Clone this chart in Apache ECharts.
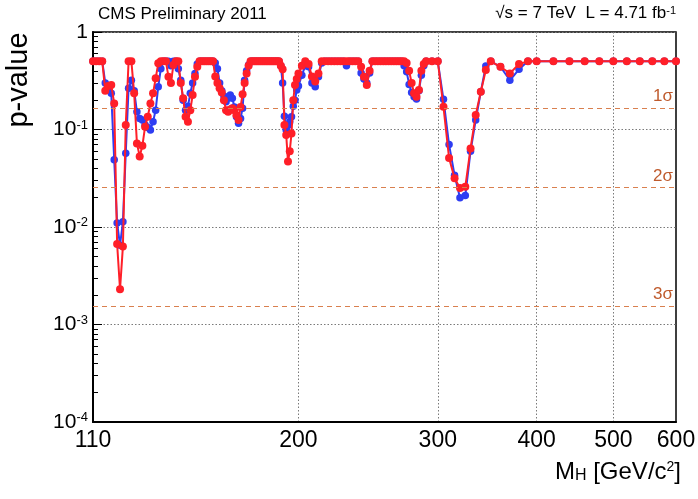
<!DOCTYPE html>
<html><head><meta charset="utf-8">
<script src="https://cdn.jsdelivr.net/npm/echarts@6/dist/echarts.min.js"></script>
<style>html,body{margin:0;padding:0;background:#fff}#c{width:698px;height:499px}</style>
</head><body><div id="c"></div>
<script>
// Higgs mass points (GeV/c^2)
const massGeV = [
 110,111,112,113,114,115,116,117,118,119,120,121,122,123,124,125,126,127,128,129,
 130,131,132,133,134,135,136,137,138,139,140,141,142,143,144,145,146,147,148,149,
 150,151,152,153,154,155,156,157,158,159,160,161,162,163,164,165,166,167,168,169,
 170,171,172,173,174,175,176,177,178,179,180,181,182,183,184,185,186,187,188,189,
 190,191,192,193,194,195,196,197,198,199,200,
 202,204,206,208,210,212,214,216,218,220,222,224,226,228,230,232,234,236,238,240,
 242,244,246,248,250,252,254,256,258,260,262,264,266,268,270,272,274,276,278,280,
 282,284,286,288,290,
 295,300,305,310,315,320,325,330,335,340,345,350,
 360,370,380,390,400,
 420,440,460,480,500,520,540,560,580,600
];
// blue curve (p-value)
const pBlue = [
 0.5,0.5,0.5,0.5,0.30,0.27,0.235,0.049,0.011,0.0065,0.0113,0.057,0.265,0.32,0.25,0.152,0.13,0.125,0.111,0.105,
 0.099,0.12,0.158,0.275,0.42,0.5,0.5,0.5,0.45,0.5,0.5,0.42,0.32,0.2,0.158,0.173,0.235,0.30,0.376,0.47,
 0.5,0.5,0.5,0.5,0.5,0.5,0.5,0.48,0.42,0.30,0.25,0.22,0.193,0.21,0.226,0.209,0.17,0.135,0.116,0.13,
 0.165,0.32,0.40,0.46,0.5,0.5,0.5,0.5,0.5,0.5,0.5,0.5,0.5,0.5,0.5,0.5,0.5,0.5,0.5,0.5,
 0.45,0.30,0.137,0.099,0.11,0.12,0.135,0.173,0.2,0.254,0.28,
 0.36,0.45,0.44,0.30,0.275,0.348,0.48,0.5,0.5,0.5,0.5,0.5,0.5,0.5,0.45,0.5,0.5,0.5,0.5,0.38,
 0.33,0.30,0.38,0.5,0.5,0.5,0.5,0.5,0.5,0.5,0.5,0.5,0.5,0.5,0.5,0.45,0.39,0.29,0.24,0.217,
 0.205,0.25,0.36,0.45,0.5,
 0.5,0.5,0.204,0.07,0.034,0.020,0.021,0.06,0.125,0.244,0.448,0.5,
 0.44,0.32,0.414,0.5,0.5,
 0.5,0.5,0.5,0.5,0.5,0.5,0.5,0.5,0.5,0.5
];
// red curve (p-value)
const pRed = [
 0.5,0.5,0.5,0.5,0.25,0.28,0.286,0.185,0.0067,0.0023,0.0063,0.111,0.5,0.5,0.235,0.072,0.053,0.068,0.107,0.135,
 0.185,0.235,0.335,0.477,0.5,0.5,0.5,0.348,0.30,0.46,0.5,0.5,0.30,0.209,0.135,0.12,0.158,0.226,0.348,0.44,
 0.5,0.5,0.5,0.5,0.5,0.5,0.5,0.35,0.30,0.265,0.24,0.20,0.158,0.152,0.16,0.165,0.158,0.14,0.125,0.17,
 0.23,0.30,0.376,0.45,0.5,0.5,0.5,0.5,0.5,0.5,0.5,0.5,0.5,0.5,0.5,0.5,0.5,0.5,0.5,0.5,
 0.45,0.414,0.111,0.088,0.047,0.06,0.091,0.2,0.286,0.33,0.376,
 0.45,0.5,0.47,0.35,0.31,0.376,0.5,0.5,0.5,0.5,0.5,0.5,0.5,0.5,0.5,0.5,0.5,0.5,0.5,0.44,
 0.348,0.286,0.40,0.5,0.5,0.5,0.5,0.5,0.5,0.5,0.5,0.5,0.5,0.5,0.5,0.5,0.48,0.40,0.30,0.235,
 0.217,0.254,0.40,0.47,0.5,
 0.5,0.5,0.171,0.051,0.0317,0.0251,0.0258,0.064,0.141,0.244,0.407,0.5,
 0.44,0.376,0.47,0.5,0.5,
 0.5,0.5,0.5,0.5,0.5,0.5,0.5,0.5,0.5,0.5
];
const xTickLabels = [110, 200, 300, 400, 500, 600];
const xGridValues = [200, 300, 400, 500];
const yDecades = [0.0001, 0.001, 0.01, 0.1, 1];
const yMinorTicks = [
 0.0002,0.0003,0.0004,0.0005,0.0006,0.0007,0.0008,0.0009,
 0.002,0.003,0.004,0.005,0.006,0.007,0.008,0.009,
 0.02,0.03,0.04,0.05,0.06,0.07,0.08,0.09,
 0.2,0.3,0.4,0.5,0.6,0.7,0.8,0.9
];
const sigmaNames = ['1σ', '2σ', '3σ'];
const sigmaP = [0.167, 0.0253, 0.00155];

const FONT = '"Liberation Sans", Arial, Helvetica, sans-serif';
const chart = echarts.init(document.getElementById('c'), null, {renderer: 'canvas'});

const zip = (xs, ys) => xs.map((x, i) => [x, ys[i]]);

const option = {
  animation: false,
  backgroundColor: '#fff',
  grid: {left: 93, right: 22, top: 32, bottom: 77, show: true, borderColor: '#000', borderWidth: 1.5,
         backgroundColor: 'transparent', containLabel: false, outerBoundsMode: 'none'},
  xAxis: {
    type: 'log', logBase: 10, min: 110, max: 600,
    axisLine: {show: true, lineStyle: {color: '#000', width: 2}},
    axisTick: {show: false, customValues: xGridValues},
    splitLine: {show: true, lineStyle: {color: '#7a7a7a', type: [1.5, 2], width: 1}},
    minorTick: {show: false}, minorSplitLine: {show: false},
    axisLabel: {customValues: xTickLabels, fontFamily: FONT, fontSize: 23, color: '#000', margin: 7,
                formatter: v => String(Math.round(v))}
  },
  yAxis: [{
    type: 'log', logBase: 10, min: 0.0001, max: 1,
    axisLine: {show: true, lineStyle: {color: '#000', width: 2}},
    axisTick: {show: true, inside: true, length: 9, customValues: yDecades, lineStyle: {color: '#000', width: 1}},
    splitLine: {show: true, lineStyle: {color: '#7a7a7a', type: [1.5, 2], width: 1}},
    minorTick: {show: false}, minorSplitLine: {show: false},
    axisLabel: {
      customValues: yDecades, margin: 5,
      formatter: v => {
        const e = Math.round(Math.log10(v));
        return e === 0 ? '{b|1}' : '{b|10}{s|' + e + '}';
      },
      rich: {
        b: {fontFamily: FONT, fontSize: 21, color: '#000', lineHeight: 22},
        s: {fontFamily: FONT, fontSize: 13, color: '#000', verticalAlign: 'top', lineHeight: 14}
      }
    }
  }, {
    type: 'log', logBase: 10, min: 0.0001, max: 1, position: 'left',
    axisLine: {show: false},
    axisTick: {show: true, inside: true, length: 5, customValues: yMinorTicks, lineStyle: {color: '#000', width: 1}},
    axisLabel: {show: false},
    splitLine: {show: false}
  }],
  series: [{
    name: 'blue', type: 'line', yAxisIndex: 0,
    data: zip(massGeV, pBlue),
    symbol: 'circle', symbolSize: 7.5, showSymbol: true,
    lineStyle: {color: '#2e3df2', width: 2},
    itemStyle: {color: '#2e3df2'},
    z: 3,
    markLine: {
      silent: true, symbol: 'none', precision: 8,
      lineStyle: {color: '#d9804f', type: [5, 4], width: 1.2},
      label: {position: 'insideEndTop', fontFamily: FONT, fontSize: 17, color: '#bf5a2c', distance: 3},
      data: sigmaP.map((p, i) => ({yAxis: p, label: {formatter: sigmaNames[i]}}))
    }
  }, {
    name: 'red', type: 'line', yAxisIndex: 0,
    data: zip(massGeV, pRed),
    symbol: 'circle', symbolSize: 8, showSymbol: true,
    lineStyle: {color: '#ff1f28', width: 2},
    itemStyle: {color: '#ff1f28'},
    z: 4
  }],
  graphic: [
    {type: 'text', x: 98, y: 6, style: {text: 'CMS Preliminary 2011', font: '17px ' + FONT, fill: '#000'}},
    {type: 'text', x: 676, y: 5, style: {
      text: '√s = 7 TeV  L = 4.71 fb{sup|-1}', textAlign: 'right', font: '17px ' + FONT, fill: '#000',
      rich: {sup: {fontSize: 11, fontFamily: FONT, verticalAlign: 'top', fill: '#000'}}
    }},
    {type: 'text', x: 19, y: 80, rotation: Math.PI / 2, style: {
      text: 'p-value', font: '29px ' + FONT, fill: '#000', textAlign: 'center', textVerticalAlign: 'middle'
    }},
    {type: 'text', x: 681, y: 460, style: {
      text: 'M{sub|H} [GeV/c{sup|2}]', textAlign: 'right', font: '24px ' + FONT, fill: '#000',
      rich: {
        sub: {fontSize: 16, fontFamily: FONT, verticalAlign: 'bottom', fill: '#000'},
        sup: {fontSize: 14, fontFamily: FONT, verticalAlign: 'top', fill: '#000'}
      }
    }}
  ]
};
chart.setOption(option);
</script>
</body></html>
